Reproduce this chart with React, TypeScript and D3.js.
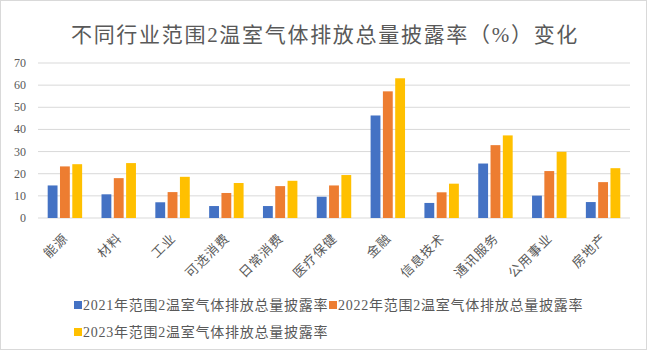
import { useEffect, useRef } from 'react';
import * as d3 from 'd3';

const categories = ['能源', '材料', '工业', '可选消费', '日常消费', '医疗保健', '金融', '信息技术', '通讯服务', '公用事业', '房地产'];
const series2021 = [14.7, 10.7, 7.1, 5.4, 5.4, 9.6, 46.3, 6.8, 24.6, 10.1, 7.2];
const series2022 = [23.3, 18.0, 11.7, 11.3, 14.4, 14.7, 57.2, 11.6, 32.9, 21.2, 16.2];
const series2023 = [24.3, 24.8, 18.6, 15.8, 16.8, 19.4, 63.1, 15.5, 37.3, 29.9, 22.5];
const seriesNames = ['2021年范围2温室气体排放总量披露率', '2022年范围2温室气体排放总量披露率', '2023年范围2温室气体排放总量披露率'];
const yTicks = [0, 10, 20, 30, 40, 50, 60, 70];

const colors = ['#4472C4', '#ED7D31', '#FFC000'];
const FONT = '"Liberation Serif", "Noto Sans CJK SC", serif';

export default function App() {
  const svgRef = useRef<SVGSVGElement | null>(null);

  useEffect(() => {
    if (!svgRef.current) return;
    const svg = d3.select(svgRef.current);
    svg.selectAll('*').remove();

    const width = 650;
    const height = 352;
    const margin = { top: 63, right: 20, bottom: 134, left: 38 };
    const w = width - margin.left - margin.right;
    const h = height - margin.top - margin.bottom;

    // frame
    svg.append('rect')
      .attr('x', 0.5).attr('y', 0.5)
      .attr('width', 646).attr('height', 349)
      .attr('fill', '#fff')
      .attr('stroke', '#d9d9d9');

    // title
    svg.append('text')
      .attr('x', 325).attr('y', 42)
      .attr('text-anchor', 'middle')
      .attr('fill', '#595959')
      .attr('font-size', '21px')
      .attr('letter-spacing', '1.7px')
      .attr('font-family', FONT)
      .text('不同行业范围2温室气体排放总量披露率（%）变化');

    const g = svg.append('g').attr('transform', `translate(${margin.left},${margin.top})`);

    const x0 = d3.scaleBand<string>().domain(categories).range([0, w]).paddingInner(0.36).paddingOuter(0.18);
    const x1 = d3.scaleBand<number>().domain([0, 1, 2]).range([0, x0.bandwidth()]).paddingInner(0.2);
    const y = d3.scaleLinear().domain([0, 70]).range([h, 0]);

    // gridlines
    g.selectAll('line.grid')
      .data(yTicks)
      .join('line')
      .attr('class', 'grid')
      .attr('x1', 0).attr('x2', w)
      .attr('y1', d => y(d)).attr('y2', d => y(d))
      .attr('stroke', '#d9d9d9')
      .attr('stroke-width', 1);

    // y labels
    g.selectAll('text.ytick')
      .data(yTicks)
      .join('text')
      .attr('class', 'ytick')
      .attr('x', -12).attr('y', d => y(d) + 4)
      .attr('text-anchor', 'end')
      .attr('fill', '#595959')
      .attr('font-size', '12px')
      .attr('font-family', FONT)
      .text(d => d);

    // bars
    const all = [series2021, series2022, series2023];
    all.forEach((vals, si) => {
      g.selectAll(`rect.s${si}`)
        .data(vals)
        .join('rect')
        .attr('class', `s${si}`)
        .attr('x', (_, i) => (x0(categories[i]) ?? 0) + (x1(si) ?? 0))
        .attr('y', d => y(d))
        .attr('width', x1.bandwidth())
        .attr('height', d => h - y(d))
        .attr('fill', colors[si]);
    });

    // x labels
    categories.forEach((c) => {
      const cx = (x0(c) ?? 0) + x0.bandwidth() / 2 + 4;
      g.append('text')
        .attr('transform', `translate(${cx},${h + 21}) rotate(-45)`)
        .attr('text-anchor', 'end')
        .attr('fill', '#595959')
        .attr('font-size', '13px')
        .attr('letter-spacing', '1px')
        .attr('font-family', FONT)
        .text(c);
    });

    // legend
    const legendPos = [[74, 305], [329, 305], [74, 332]];
    seriesNames.forEach((name, i) => {
      const [lx, ly] = legendPos[i];
      svg.append('rect')
        .attr('x', lx).attr('y', ly - 4)
        .attr('width', 8).attr('height', 8)
        .attr('fill', colors[i]);
      svg.append('text')
        .attr('x', lx + 9).attr('y', ly + 5)
        .attr('fill', '#595959')
        .attr('font-size', '14px')
        .attr('letter-spacing', '0.75px')
        .attr('font-family', FONT)
        .text(name);
    });
  }, []);

  return (
    <div style={{ position: 'fixed', left: 0, top: 0, width: 650, height: 352, background: '#fff' }}>
      <svg ref={svgRef} width={650} height={352} />
    </div>
  );
}
